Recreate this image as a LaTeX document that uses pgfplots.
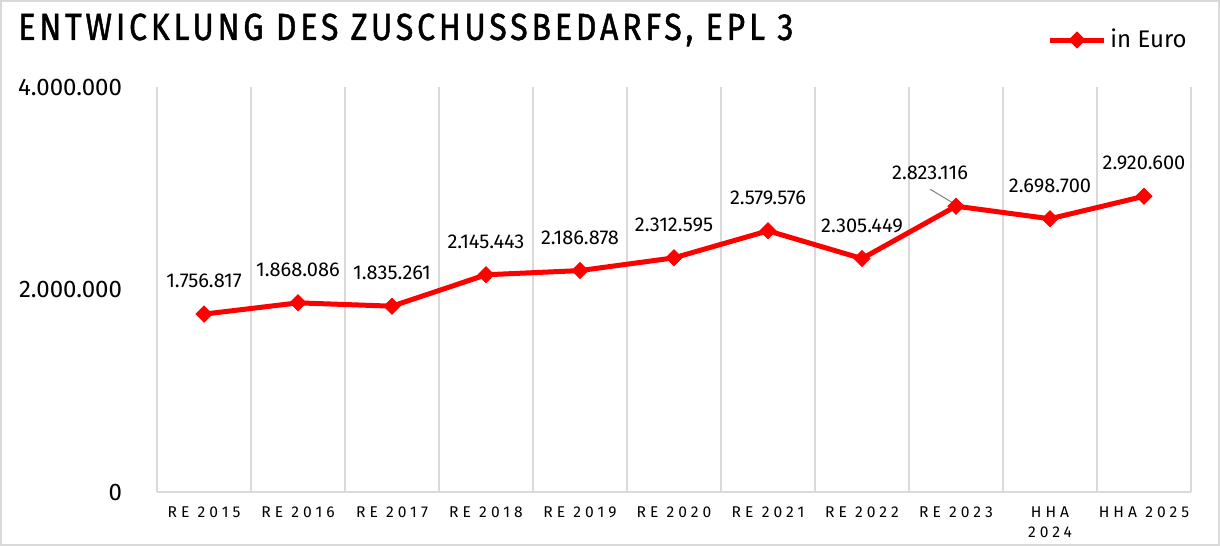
\documentclass[border=0pt]{standalone}
\usepackage{pgfplots}
\pgfplotsset{compat=1.18}
\usepackage{pgfplotstable}
\usepackage{fontspec}
\setmainfont{Fira Sans}
\newfontfamily\titlefont[LetterSpace=10,FakeStretch=0.85,FakeBold=1.2]{Fira Sans}
\newfontfamily\xfont[LetterSpace=26]{Fira Sans}
\definecolor{gridgray}{HTML}{D9D9D9}
\definecolor{linered}{HTML}{FF0000}
\pgfplotstableread{
x y label
0 1756817 1.756.817
1 1868086 1.868.086
2 1835261 1.835.261
3 2145443 2.145.443
4 2186878 2.186.878
5 2312595 2.312.595
6 2579576 2.579.576
7 2305449 2.305.449
8 2823116 {}
9 2698700 2.698.700
10 2920600 2.920.600
}\datatable
\begin{document}
\begin{tikzpicture}
\path (0,0) rectangle (610pt,273pt);
\draw[gridgray, line width=0.8pt] (0.4pt,0.4pt) rectangle (609.6pt,272.6pt);
\node[anchor=base west, inner sep=0pt] at (9pt,253pt) {\titlefont\fontsize{18.9}{22}\selectfont ENTWICKLUNG DES ZUSCHUSSBEDARFS, EPL 3};
\begin{axis}[
  at={(78.5pt,27pt)}, anchor=south west,
  width=517pt, height=202.5pt, scale only axis,
  xmin=-0.5, xmax=10.5, ymin=0, ymax=4000000,
  axis x line*=bottom, axis y line*=left,
  x axis line style={-, draw=gridgray, line width=1pt},
  y axis line style={-, draw=none},
  xtick={0,...,10},
  xticklabels={RE 2015,RE 2016,RE 2017,RE 2018,RE 2019,RE 2020,RE 2021,RE 2022,RE 2023,{HHA\\2024},HHA 2025},
  xticklabel style={font=\xfont\fontsize{7.8}{10}\selectfont, align=center, yshift=-4pt},
  minor xtick={-0.5,0.5,...,10.5},
  xminorgrids, minor grid style={gridgray, line width=1pt},
  major tick length=0pt, minor tick length=0pt,
  ytick={0,2000000,4000000},
  yticklabels={0,2.000.000,4.000.000},
  yticklabel style={font=\fontsize{12}{14}\selectfont, xshift=-14pt},
  scaled y ticks=false,
  clip=false,
  legend style={draw=none, fill=none, at={(1,1)}, anchor=east, yshift=23.5pt, font=\fontsize{12}{14}\selectfont, inner sep=0pt},
  legend image code/.code={\draw[#1, mark=none] (0pt,0pt) -- (27pt,0pt); \draw[#1, only marks] plot coordinates {(13.5pt,0pt)};},
]
\addplot[linered, line width=2.5pt, mark=square*, mark size=2.8pt, mark options={rotate=45, solid, line width=0.5pt},
  nodes near coords, point meta=explicit symbolic,
  every node near coord/.append style={font=\fontsize{10}{12}\selectfont, text=black, anchor=center, yshift=16.5pt}]
  table[x=x, y=y, meta=label] {\datatable};
\addlegendentry{in Euro}
\draw[gray, line width=0.5pt] ([xshift=-13pt,yshift=8.5pt]axis cs:8,2823116) -- ([xshift=-0.5pt,yshift=1pt]axis cs:8,2823116);
\node[font=\fontsize{10}{12}\selectfont, anchor=center] at ([xshift=-13pt,yshift=16.5pt]axis cs:8,2823116) {2.823.116};
\end{axis}
\end{tikzpicture}
\end{document}
